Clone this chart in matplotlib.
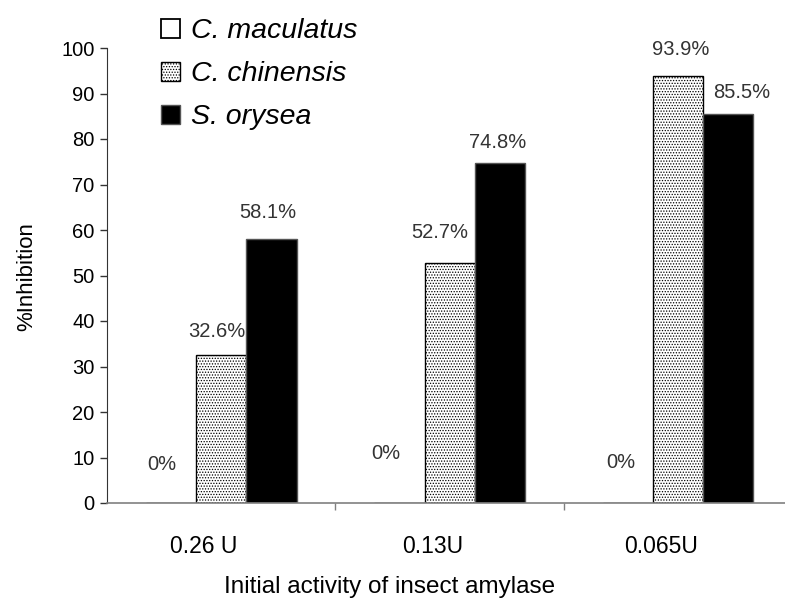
import matplotlib
matplotlib.use("Agg")
import matplotlib.pyplot as plt
from matplotlib.patches import Rectangle
import numpy as np

categories = ["0.26 U", "0.13U", "0.065U"]
series_names = ["C. maculatus", "C. chinensis", "S. orysea"]
maculatus = [0, 0, 0]
chinensis = [32.6, 52.7, 93.9]
orysea = [58.1, 74.8, 85.5]
label_text = [["0%", "32.6%", "58.1%"], ["0%", "52.7%", "74.8%"], ["0%", "93.9%", "85.5%"]]

# layout (label placement relative to bars): x shift, y position (data units)
lab_dx = [[-0.04, -0.02, -0.015], [-0.06, -0.045, -0.01], [-0.03, 0.01, 0.06]]
lab_dy = [[8.4, 5.0, 5.8], [10.8, 6.8, 4.5], [9.0, 5.7, 4.8]]

plt.rcParams['font.family'] = ['Liberation Sans', 'DejaVu Sans']
plt.rcParams['hatch.linewidth'] = 0.6

W, H = 785, 599
fig = plt.figure(figsize=(W / 100, H / 100), dpi=100)
ax = fig.add_axes([107/W, (H-503)/H, (W-107)/W, (503-48)/H])

styles = [dict(facecolor="white", edgecolor="black", linewidth=1.0),
          dict(facecolor="white", edgecolor="black", hatch="......", linewidth=1.0),
          dict(facecolor="black", edgecolor="#555555", linewidth=1.0)]

x = np.arange(len(categories))
w = 0.22
vals = [maculatus, chinensis, orysea]
for s in range(3):
    ax.bar(x + (s - 1) * w, vals[s], w, label=series_names[s], **styles[s])

for i in range(len(categories)):
    for s in range(3):
        xc = x[i] + (s - 1) * w + lab_dx[i][s]
        yc = lab_dy[i][s] if vals[s][i] == 0 else vals[s][i] + lab_dy[i][s]
        ax.text(xc, yc, label_text[i][s], ha="center", va="center", fontsize=14.5, color="#333333")

ax.set_xlim(-0.5, 2.468)
ax.set_ylim(0, 100)
ax.set_yticks(np.arange(0, 101, 10))
ax.tick_params(axis="y", direction="out", length=5, width=1, labelsize=14.5, pad=4, color="#333333")

ax.set_xticks([0.5, 1.5])
ax.set_xticklabels(["", ""])
ax.tick_params(axis="x", which="major", direction="out", length=5, width=1, color="#808080")
ax.set_xticks(x - 0.075, minor=True)
ax.set_xticklabels(categories, minor=True)
ax.tick_params(axis="x", which="minor", length=0, labelsize=16.5, pad=23)

for sp in ["top", "right"]:
    ax.spines[sp].set_visible(False)
ax.spines["bottom"].set_color("#808080")
ax.spines["bottom"].set_linewidth(1.2)
ax.spines["left"].set_color("#333333")

fig.text(390/W, 1 - 587/H, "Initial activity of insect amylase", ha="center", va="center", fontsize=17.5)
fig.text(27/W, 1 - 277/H, "%Inhibition", ha="center", va="center", rotation=90, fontsize=16)

# legend drawn in figure pixel layout
leg_rows = [28, 71, 114]
sq = 19
for s, yr in enumerate(leg_rows):
    r = Rectangle((161/W, (H - yr - sq/2)/H), sq/W, sq/H, transform=fig.transFigure, **styles[s])
    if s == 0:
        r.set_linewidth(1.3)
    fig.add_artist(r)
    fig.text(191/W, (H - yr - 10)/H, series_names[s], ha="left", va="baseline",
             fontsize=20.5, style="italic")

fig.savefig("out.png", dpi=100)
